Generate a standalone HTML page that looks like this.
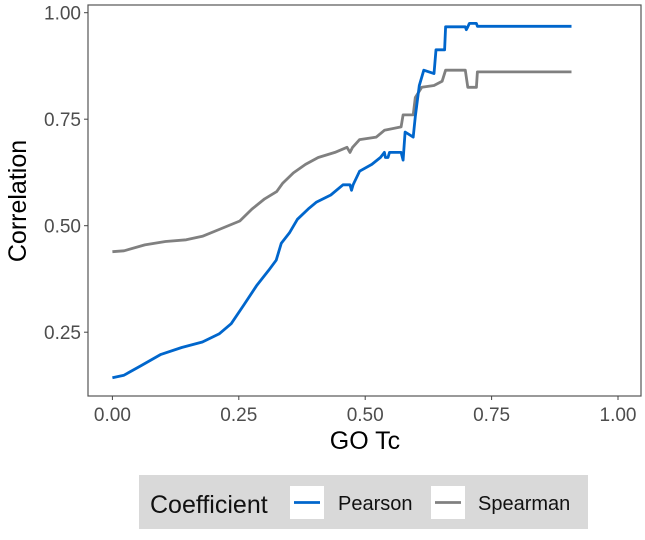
<!DOCTYPE html>
<html><head><meta charset="utf-8"><style>
body{margin:0;background:#fff;}
svg text{font-family:"Liberation Sans",Arial,sans-serif;}
</style></head><body>
<svg width="645" height="535" viewBox="0 0 645 535">
<rect x="88" y="5" width="553" height="391" fill="#fff" stroke="#555" stroke-width="1.2"/>
<g id="axes"></g>
<g id="series"></g>
<text x="365" y="449" font-size="25" text-anchor="middle" fill="#000">GO Tc</text>
<text transform="translate(26,201) rotate(-90)" font-size="25" text-anchor="middle" fill="#000">Correlation</text>
<g>
<rect x="139" y="475" width="449" height="54" fill="#d9d9d9"/>
<text x="150" y="513" font-size="25" fill="#111">Coefficient</text>
<rect x="290" y="486" width="34" height="33" fill="#fff"/>
<line x1="294" y1="502.5" x2="320" y2="502.5" stroke="#0066cc" stroke-width="2.8"/>
<text x="338" y="510" font-size="20" fill="#111">Pearson</text>
<rect x="431" y="486" width="34" height="33" fill="#fff"/>
<line x1="435" y1="502.5" x2="461" y2="502.5" stroke="#808080" stroke-width="2.8"/>
<text x="478" y="510" font-size="20" fill="#111">Spearman</text>
</g>
</svg>
<script>
const xTicks=[0,0.25,0.5,0.75,1.0];
const xTickLabels=["0.00","0.25","0.50","0.75","1.00"];
const yTicks=[0.25,0.5,0.75,1.0];
const yTickLabels=["0.25","0.50","0.75","1.00"];
const pearsonX=[0,0.023,0.056,0.096,0.137,0.178,0.211,0.235,0.260,0.285,0.309,0.324,0.334,0.350,0.366,0.387,0.403,0.432,0.456,0.470,0.473,0.476,0.489,0.513,0.530,0.538,0.540,0.545,0.548,0.563,0.571,0.575,0.579,0.595,0.599,0.607,0.616,0.636,0.640,0.657,0.659,0.698,0.700,0.703,0.706,0.720,0.722,0.908];
const pearsonY=[0.143,0.149,0.171,0.198,0.214,0.227,0.246,0.270,0.314,0.359,0.395,0.419,0.459,0.483,0.515,0.539,0.555,0.572,0.596,0.596,0.583,0.596,0.628,0.644,0.660,0.672,0.660,0.660,0.672,0.672,0.672,0.654,0.720,0.708,0.756,0.829,0.865,0.857,0.913,0.913,0.967,0.967,0.960,0.967,0.975,0.975,0.968,0.968];
const spearmanX=[0,0.023,0.064,0.105,0.146,0.178,0.211,0.252,0.276,0.301,0.325,0.337,0.358,0.382,0.407,0.440,0.464,0.470,0.475,0.489,0.522,0.538,0.571,0.575,0.595,0.599,0.612,0.636,0.652,0.659,0.698,0.703,0.720,0.722,0.908];
const spearmanY=[0.439,0.441,0.455,0.463,0.467,0.475,0.491,0.511,0.539,0.563,0.580,0.600,0.624,0.644,0.660,0.672,0.684,0.672,0.684,0.702,0.708,0.724,0.732,0.760,0.760,0.801,0.825,0.829,0.839,0.865,0.865,0.825,0.825,0.861,0.861];
const NS="http://www.w3.org/2000/svg";
const sx=v=>112.4+v*505.6;
const sy=v=>12.7+(1-v)*426;
const axes=document.getElementById('axes');
xTicks.forEach((t,i)=>{
 const l=document.createElementNS(NS,'line');
 l.setAttribute('x1',sx(t));l.setAttribute('x2',sx(t));l.setAttribute('y1',396);l.setAttribute('y2',400);
 l.setAttribute('stroke','#444');
 
 
 axes.appendChild(l);
 const tx=document.createElementNS(NS,'text');
 tx.setAttribute('x',sx(t));tx.setAttribute('y',421);tx.setAttribute('font-size','19');tx.setAttribute('fill','#4d4d4d');tx.setAttribute('text-anchor','middle');
 tx.textContent=xTickLabels[i];
 
 
 axes.appendChild(tx);
});
yTicks.forEach((t,i)=>{
 const l=document.createElementNS(NS,'line');
 l.setAttribute('x1',84);l.setAttribute('x2',88);l.setAttribute('y1',sy(t));l.setAttribute('y2',sy(t));
 l.setAttribute('stroke','#444');
 
 
 axes.appendChild(l);
 const tx=document.createElementNS(NS,'text');
 tx.setAttribute('x',81);tx.setAttribute('y',sy(t)+7);tx.setAttribute('font-size','19');tx.setAttribute('fill','#4d4d4d');tx.setAttribute('text-anchor','end');
 tx.textContent=yTickLabels[i];
 
 
 axes.appendChild(tx);
});
const g=document.getElementById('series');
function draw(xs,ys,color,name){
 const p=document.createElementNS(NS,'polyline');
 p.setAttribute('points',xs.map((x,i)=>sx(x).toFixed(1)+','+sy(ys[i]).toFixed(1)).join(' '));
 p.setAttribute('fill','none');p.setAttribute('stroke',color);p.setAttribute('stroke-width','2.8');p.setAttribute('stroke-linejoin','round');
 
 
 g.appendChild(p);
}
draw(spearmanX,spearmanY,'#808080','spearman-line');
draw(pearsonX,pearsonY,'#0066cc','pearson-line');
</script>
</body></html>
